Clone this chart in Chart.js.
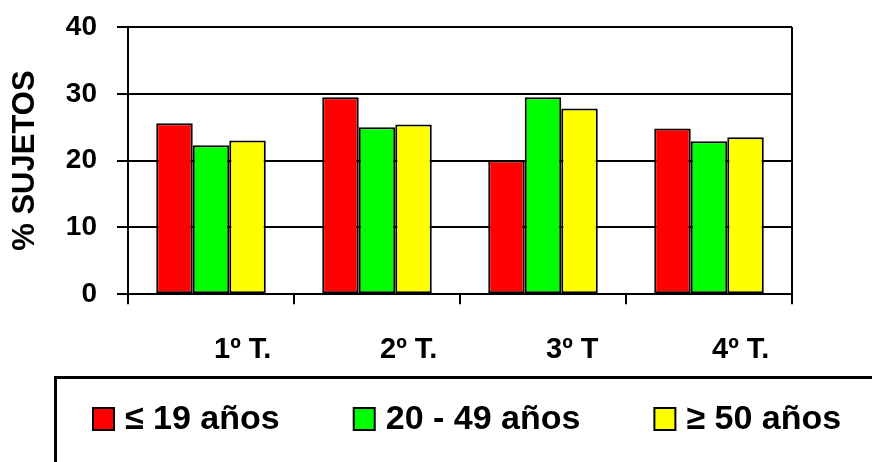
<!DOCTYPE html>
<html>
<head>
<meta charset="utf-8">
<script src="https://cdn.jsdelivr.net/npm/chart.js@4.4.1/dist/chart.umd.min.js"></script>
<style>
  html, body { margin: 0; padding: 0; background: #fff; }
  #wrap { width: 872px; height: 462px; }
</style>
</head>
<body>
<div id="wrap"><canvas id="grafico" width="872" height="462"></canvas></div>
<script>
// datos
const trimestres = ['1º T.', '2º T.', '3º T', '4º T.'];
const menores19 = [25.6, 29.5, 20.0, 24.8];
const entre20y49 = [22.3, 25.0, 29.5, 22.9];
const mayores50 = [23.0, 25.4, 27.8, 23.5];
const ticksY = [0, 10, 20, 30, 40];

const FUENTE = '"Liberation Sans", Arial, sans-serif';

// leyenda dibujada a mano, con su marco como en el original
const leyendaEnMarco = {
    id: 'leyendaEnMarco',
    afterDraw(chart) {
        const ctx = chart.ctx;
        ctx.save();
        ctx.lineWidth = 3;
        ctx.strokeStyle = '#000';
        ctx.strokeRect(55.5, 377.5, 900, 200);

        ctx.font = 'bold 34px ' + FUENTE;
        ctx.textBaseline = 'middle';
        let x = 93;
        const y = 419;
        chart.data.datasets.forEach(ds => {
            ctx.fillStyle = ds.backgroundColor;
            ctx.fillRect(x, y - 11, 21, 22);
            ctx.lineWidth = 2;
            ctx.strokeRect(x, y - 11, 21, 22);
            ctx.fillStyle = '#000';
            ctx.fillText(ds.label, x + 32, y + 1);
            x += 32 + ctx.measureText(ds.label).width + 74;
        });
        ctx.restore();
    }
};

const conjunto = (label, data, color) => ({
    label: label,
    data: data,
    backgroundColor: color,
    borderColor: '#000',
    borderWidth: 2,
    borderSkipped: false
});

new Chart(document.getElementById('grafico'), {
    type: 'bar',
    data: {
        labels: trimestres,
        datasets: [
            conjunto('≤ 19 años', menores19, '#FF0000'),
            conjunto('20 - 49 años', entre20y49, '#00FF00'),
            conjunto('≥ 50 años', mayores50, '#FFFF00')
        ]
    },
    options: {
        responsive: false,
        animation: false,
        categoryPercentage: 0.66,
        barPercentage: 1.0,
        layout: { padding: { left: 0, right: 80, top: 27, bottom: 67 } },
        plugins: {
            legend: { display: false },
            tooltip: { enabled: false }
        },
        scales: {
            x: {
                offset: true,
                border: { display: true, color: '#000', width: 2 },
                grid: {
                    // solo la linea final (marco derecho) y las marcas de division
                    color: c => c.tick ? 'rgba(0,0,0,0)' : '#000',
                    tickColor: '#000',
                    lineWidth: 2,
                    drawTicks: true,
                    tickLength: 10
                },
                ticks: {
                    align: 'start',
                    labelOffset: 3,
                    padding: 28,
                    color: '#000',
                    font: { family: FUENTE, size: 29, weight: 'bold' }
                }
            },
            y: {
                min: 0,
                max: 40,
                afterBuildTicks: s => { s.ticks = ticksY.map(v => ({ value: v })); },
                afterFit: s => {
                    s.width = 128;
                    s.paddingTop = 0;
                    s.paddingBottom = 0;
                },
                border: { display: true, color: '#000', width: 2 },
                grid: {
                    color: '#000',
                    lineWidth: 2,
                    drawTicks: true,
                    tickLength: 11
                },
                ticks: {
                    padding: 20,
                    color: '#000',
                    font: { family: FUENTE, size: 28, weight: 'bold' }
                },
                title: {
                    display: true,
                    text: '% SUJETOS',
                    color: '#000',
                    padding: { top: 7, bottom: 0 },
                    font: { family: FUENTE, size: 31, weight: 'bold' }
                }
            }
        }
    },
    plugins: [leyendaEnMarco]
});
</script>
</body>
</html>
